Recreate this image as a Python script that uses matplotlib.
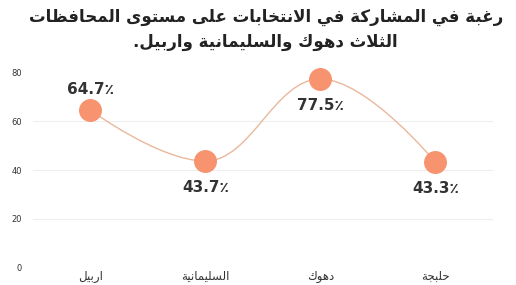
import numpy as np
import matplotlib
matplotlib.use('Agg')
import matplotlib.pyplot as plt
from matplotlib.path import Path
from matplotlib.patches import PathPatch

# data
regions = ['اربيل', 'السليمانية', 'دهوك', 'حلبجة']
values = [64.7, 43.7, 77.5, 43.3]
label_side = ['above', 'below', 'below', 'below']
title_lines = ['رغبة في المشاركة في الانتخابات على مستوى المحافظات',
               'الثلاث دهوك والسليمانية واربيل.']
y_ticks = [0, 20, 40, 60, 80]

# matplotlib has no arabic shaping, so build presentation forms by hand
RIGHT_ONLY = {'ا': 0xFE8D, 'ة': 0xFE93, 'د': 0xFEA9, 'ذ': 0xFEAB, 'ر': 0xFEAD,
              'ز': 0xFEAF, 'و': 0xFEED, 'ى': 0xFEEF}
DUAL = {'ب': 0xFE8F, 'ت': 0xFE95, 'ث': 0xFE99, 'ج': 0xFE9D, 'ح': 0xFEA1,
        'خ': 0xFEA5, 'س': 0xFEB1, 'ش': 0xFEB5, 'ص': 0xFEB9, 'ض': 0xFEBD,
        'ط': 0xFEC1, 'ظ': 0xFEC5, 'ع': 0xFEC9, 'غ': 0xFECD, 'ف': 0xFED1,
        'ق': 0xFED5, 'ك': 0xFED9, 'ل': 0xFEDD, 'م': 0xFEE1, 'ن': 0xFEE5,
        'ه': 0xFEE9, 'ي': 0xFEF1}


def shape(text):
    out = []
    i = 0
    n = len(text)
    while i < n:
        c = text[i]
        prev = text[i - 1] if i > 0 else ''
        joins_prev = prev in DUAL
        if c == 'ل' and i + 1 < n and text[i + 1] == 'ا':
            out.append(chr(0xFEFC if joins_prev else 0xFEFB))
            i += 2
            continue
        nxt = text[i + 1] if i + 1 < n else ''
        joins_next = c in DUAL and (nxt in DUAL or nxt in RIGHT_ONLY)
        if c in DUAL:
            base = DUAL[c]
            if joins_prev and joins_next:
                out.append(chr(base + 3))
            elif joins_prev:
                out.append(chr(base + 1))
            elif joins_next:
                out.append(chr(base + 2))
            else:
                out.append(chr(base))
        elif c in RIGHT_ONLY:
            out.append(chr(RIGHT_ONLY[c] + (1 if joins_prev else 0)))
        else:
            out.append(c)
        i += 1
    return ''.join(out)[::-1]


def spline_path(xs, ys, smoothing=1.5):
    # highcharts-style spline control points
    n = len(xs)
    lc = [None] * n
    rc = [None] * n
    for i in range(1, n - 1):
        d = smoothing + 1
        lx = (smoothing * xs[i] + xs[i - 1]) / d
        ly = (smoothing * ys[i] + ys[i - 1]) / d
        rx = (smoothing * xs[i] + xs[i + 1]) / d
        ry = (smoothing * ys[i] + ys[i + 1]) / d
        corr = (ry - ly) * (rx - xs[i]) / (rx - lx) + ys[i] - ry
        ly += corr
        ry += corr
        if ly > max(ys[i - 1], ys[i]):
            ly = max(ys[i - 1], ys[i])
            ry = 2 * ys[i] - ly
        elif ly < min(ys[i - 1], ys[i]):
            ly = min(ys[i - 1], ys[i])
            ry = 2 * ys[i] - ly
        if ry > max(ys[i + 1], ys[i]):
            ry = max(ys[i + 1], ys[i])
            ly = 2 * ys[i] - ry
        elif ry < min(ys[i + 1], ys[i]):
            ry = min(ys[i + 1], ys[i])
            ly = 2 * ys[i] - ry
        lc[i] = (lx, ly)
        rc[i] = (rx, ry)
    verts = [(xs[0], ys[0])]
    codes = [Path.MOVETO]
    for i in range(1, n):
        c1 = rc[i - 1] if rc[i - 1] is not None else (xs[i - 1], ys[i - 1])
        c2 = lc[i] if lc[i] is not None else (xs[i], ys[i])
        verts += [c1, c2, (xs[i], ys[i])]
        codes += [Path.CURVE4] * 3
    return Path(verts, codes)


plt.rcParams['font.family'] = ['DejaVu Sans']

fig = plt.figure(figsize=(5.16, 2.85), dpi=100)
ax = fig.add_axes([0.064, 0.063, 0.891, 0.681])

x = np.arange(len(regions))
ax.add_patch(PathPatch(spline_path(list(x), values), fill=False,
                       edgecolor='#e9b89c', lw=1.0, zorder=2))
ax.plot(x, values, 'o', ms=15.5, color='#f7936f', mec='#f7936f',
        zorder=3, clip_on=False)

for xi, v, side in zip(x, values, label_side):
    off = 14.5 if side == 'above' else -19
    ax.annotate(f'{v}٪', (xi, v), xytext=(0, off), textcoords='offset points',
                ha='center', va='center', fontsize=11, fontweight='bold',
                color='#333333')

ax.set_xlim(-0.5, len(regions) - 0.5)
ax.set_ylim(0, 80)
ax.set_yticks(y_ticks)
ax.set_yticklabels([str(t) for t in y_ticks], fontsize=6, color='#333333')
ax.set_xticks(x)
ax.set_xticklabels([shape(r) for r in regions], fontsize=8.5, color='#333333')
ax.tick_params(length=0, pad=2)
ax.tick_params(axis='y', pad=8)
ax.grid(axis='y', color='#eeeeee', lw=0.8)
ax.get_ygridlines()[-1].set_visible(False)
ax.set_axisbelow(True)
for s in ax.spines.values():
    s.set_visible(False)

fig.text(0.515, 0.94, shape(title_lines[0]), ha='center', va='center',
         fontsize=12, fontweight='bold', color='#222222')
fig.text(0.515, 0.852, shape(title_lines[1]), ha='center', va='center',
         fontsize=12, fontweight='bold', color='#222222')

fig.savefig('out.png', dpi=100)
